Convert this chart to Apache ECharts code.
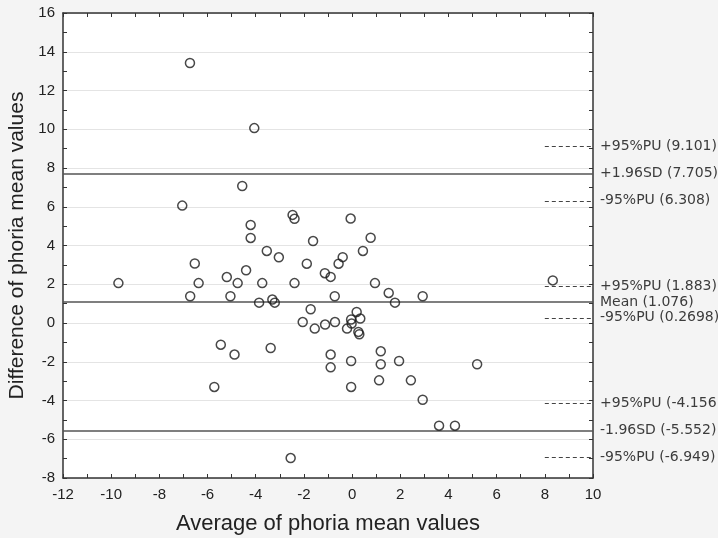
<!DOCTYPE html>
<html>
<head>
<meta charset="utf-8">
<script src="https://cdn.jsdelivr.net/npm/echarts@6/dist/echarts.min.js"></script>
<style>
html,body{margin:0;padding:0;background:#f4f4f4;}
#chart{width:718px;height:538px;}
</style>
</head>
<body>
<div id="chart"></div>
<script>
// Average of phoria mean values (x) and difference (y), one entry per subject
const avgValues = [-9.70,-7.05,-6.73,-6.72,-6.53,-6.37,-5.72,-5.45,-5.20,-5.05,-4.88,-4.75,-4.56,-4.40,-4.21,-4.21,-4.06,-3.86,-3.73,-3.54,-3.38,-3.31,-3.21,-3.04,-2.55,-2.47,-2.39,-2.39,-2.05,-1.88,-1.72,-1.62,-1.55,-1.13,-1.12,-0.89,-0.89,-0.89,-0.72,-0.71,-0.56,-0.39,-0.21,-0.06,-0.04,-0.04,-0.04,-0.02,0.19,0.26,0.30,0.34,0.45,0.77,0.95,1.12,1.19,1.19,1.52,1.78,1.95,2.44,2.93,2.93,3.61,4.27,5.19,8.33];
const diffValues = [2.06,6.06,13.42,1.38,3.07,2.06,-3.30,-1.12,2.37,1.38,-1.63,2.06,7.07,2.72,5.06,4.39,10.06,1.05,2.06,3.72,-1.29,1.21,1.05,3.39,-6.97,5.58,5.38,2.06,0.05,3.06,0.71,4.23,-0.29,2.57,-0.08,2.38,-1.63,-2.29,1.38,0.05,3.06,3.40,-0.29,5.39,0.18,-1.96,-3.30,-0.03,0.57,-0.46,-0.58,0.23,3.72,4.40,2.06,-2.96,-1.46,-2.13,1.55,1.05,-1.96,-2.96,1.38,-3.96,-5.30,-5.30,-2.13,2.20];

// Solid limit lines (mean and +/-1.96 SD)
const limitValues = [7.705, 1.076, -5.552];
const limitLabels = ['+1.96SD (7.705)', 'Mean (1.076)', '-1.96SD (-5.552)'];

// Dashed 95% PU lines
const puValues = [9.101, 6.308, 1.883, 0.2698, -4.156, -6.949];
const puLabels = ['+95%PU (9.101)', '-95%PU (6.308)', '+95%PU (1.883)', '-95%PU (0.2698)', '+95%PU (-4.156', '-95%PU (-6.949)'];
const puStart = 8, puEnd = 10;

// Axis ranges
const xMin = -12, xMax = 10, xStep = 2;
const yMin = -8, yMax = 16, yStep = 2;

const points = avgValues.map((x, i) => [x, diffValues[i]]);

const labelStyle = {
  show: true, position: 'end', distance: 7,
  fontFamily: 'DejaVu Sans', fontSize: 14, color: '#3c3c3c'
};

const markData = [];
limitValues.forEach((v, i) => {
  markData.push([
    {coord: [xMin, v], lineStyle: {type: 'solid', color: '#555', width: 1.5}},
    {coord: [xMax, v], label: Object.assign({}, labelStyle, {formatter: limitLabels[i]})}
  ]);
});
puValues.forEach((v, i) => {
  markData.push([
    {coord: [puStart, v], lineStyle: {type: [4, 3], color: '#444', width: 1.2}},
    {coord: [puEnd, v], label: Object.assign({}, labelStyle, {formatter: puLabels[i]})}
  ]);
});

const tickFont = {fontFamily: 'Liberation Sans', fontSize: 15, color: '#222'};
const baseAxisLine = {show: true, onZero: false, lineStyle: {color: '#333', width: 1.5}};
const tick = {show: true, inside: true, length: 4, lineStyle: {color: '#333', width: 1}};
const minor = {show: true, splitNumber: 2, length: 4, lineStyle: {color: '#333', width: 1}};

const chart = echarts.init(document.getElementById('chart'), null, {renderer: 'canvas'});
chart.setOption({
  backgroundColor: '#f4f4f4',
  animation: false,
  grid: {left: 63, right: 125, top: 13, bottom: 60, show: true, backgroundColor: '#ffffff', borderWidth: 0,
         containLabel: false, outerBoundsMode: 'none'},
  xAxis: [{
    type: 'value', min: xMin, max: xMax, interval: xStep, position: 'bottom',
    axisLine: baseAxisLine, axisTick: tick, minorTick: minor,
    splitLine: {show: false},
    axisLabel: Object.assign({margin: 9}, tickFont),
    name: 'Average of phoria mean values', nameLocation: 'middle', nameGap: 35,
    nameTextStyle: {fontFamily: 'Liberation Sans', fontSize: 22, color: '#222'}
  }, {
    type: 'value', min: xMin, max: xMax, interval: xStep, position: 'top',
    axisLine: baseAxisLine, axisTick: tick, minorTick: minor,
    splitLine: {show: false}, axisLabel: {show: false}
  }],
  yAxis: [{
    type: 'value', min: yMin, max: yMax, interval: yStep, position: 'left',
    axisLine: baseAxisLine, axisTick: tick, minorTick: minor,
    splitLine: {show: true, lineStyle: {color: '#e4e4e4', width: 1}},
    axisLabel: Object.assign({margin: 8}, tickFont),
    name: 'Difference of phoria mean values', nameLocation: 'middle', nameGap: 30,
    nameTextStyle: {fontFamily: 'Liberation Sans', fontSize: 21, color: '#222'}
  }, {
    type: 'value', min: yMin, max: yMax, interval: yStep, position: 'right',
    axisLine: baseAxisLine, axisTick: tick, minorTick: minor,
    splitLine: {show: false}, axisLabel: {show: false}
  }],
  series: [{
    type: 'scatter',
    data: points,
    symbol: 'circle',
    symbolSize: 9,
    itemStyle: {color: 'rgba(0,0,0,0)', borderColor: '#1a1a1a', borderWidth: 1.5},
    z: 5
  }, {
    type: 'line',
    data: [],
    clip: false,
    markLine: {
      silent: true, symbol: ['none', 'none'], animation: false,
      data: markData
    },
    z: 3
  }]
});
</script>
</body>
</html>
